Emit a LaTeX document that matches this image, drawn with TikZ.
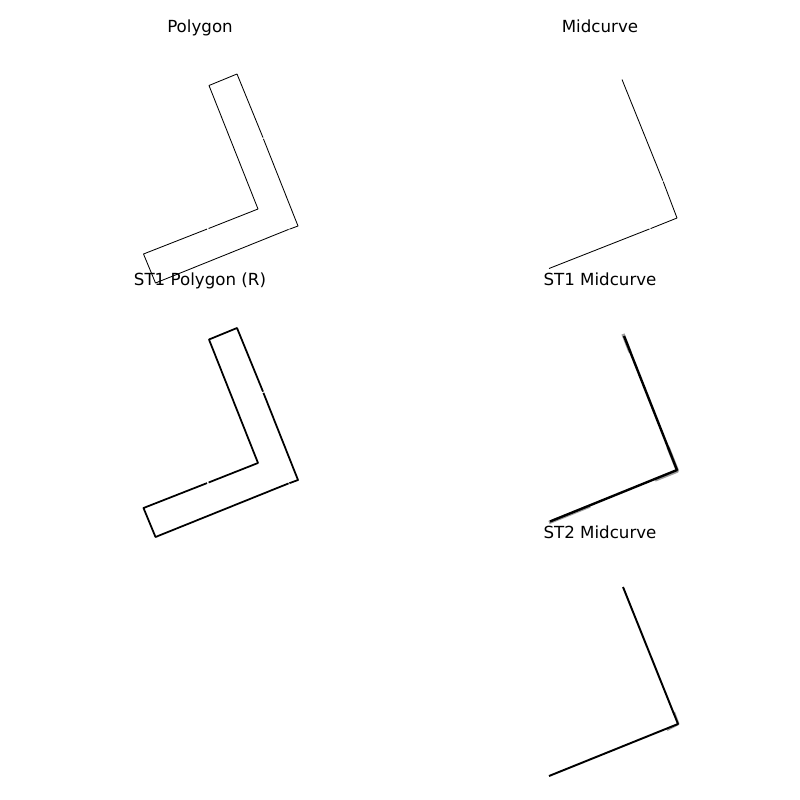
\documentclass[tikz,border=0pt]{standalone}
\usepackage{fontspec}
\setmainfont{DejaVu Sans}
\usetikzlibrary{positioning}
\tikzset{
  ttl/.style   = {font=\fontsize{4.74}{5.7}\selectfont, text=black, inner sep=0pt, anchor=base},
  thinln/.style = {draw=black, line width=0.24pt, line join=round},
  boldln/.style = {draw=black, line width=0.5pt, line join=round},
  haze/.style  = {draw=black!70, line width=0.95pt, line join=round, opacity=0.55},
}
\begin{document}
\begin{tikzpicture}[x=0.01cm, y=-0.01cm]
  \useasboundingbox (0,0) rectangle (800,800);
  % titles, one per panel
  \node[ttl] (tPoly)  at (200,32)  {Polygon};
  \node[ttl] (tMid)   at (600,32)  {Midcurve};
  \node[ttl] (tPolyR) at (200,285) {ST1 Polygon (R)};
  \node[ttl] (tMidA)  at (600,285) {ST1 Midcurve};
  \node[ttl] (tMidB)  at (600,538) {ST2 Midcurve};
  % polygons, same outline with the small breaks in it
  \foreach \yo/\st in {0/thinln, 254/boldln} {
    \begin{scope}[yshift=-\yo*0.01cm]
      \draw[\st] (263,137.6) -- (237,74) -- (209,85.5) -- (258,209) -- (208.6,228.5);
      \draw[\st] (207,229.1) -- (143.5,254) -- (155.5,283) -- (288.6,229.4);
      \draw[\st] (289.4,229.2) -- (298,226) -- (263.4,138.8);
    \end{scope}
  }
  % midcurve
  \draw[thinln] (622,79.5) -- (662.8,180.6);
  \draw[thinln] (663.2,181.6) -- (677,218) -- (650.6,228.6);
  \draw[thinln] (649.4,229) -- (549,268.5);
  % ST1 midcurve, blurred under the line
  \draw[haze] (623,334) -- (630,352);
  \draw[haze] (668,447) -- (677.5,471) -- (655,480);
  \draw[haze] (590,506) -- (549,522.5);
  \draw[boldln, line width=0.68pt] (624,336) -- (677,470) -- (550,521.5);
  % ST2 midcurve
  \draw[haze, line width=0.6pt] (674,712) -- (678.5,724) -- (667,730);
  \draw[boldln, line width=0.55pt] (623,587) -- (678,724) -- (549,776);
\end{tikzpicture}
\end{document}
